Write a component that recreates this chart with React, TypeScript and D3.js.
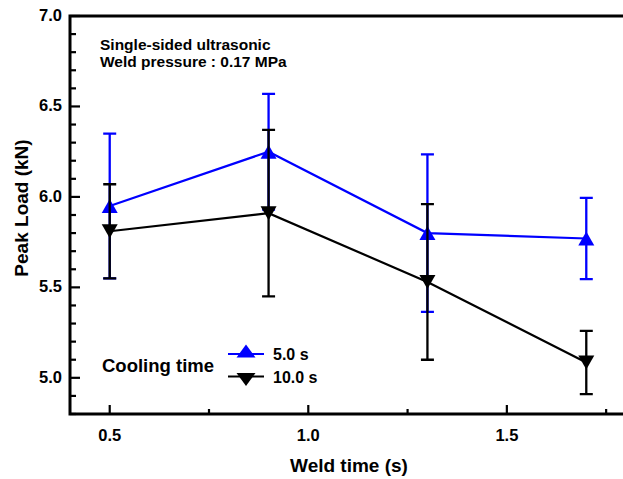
import * as d3 from 'd3';
import { useEffect, useRef } from 'react';

const weldTimes = [0.5, 0.9, 1.3, 1.7];
const load5s = [5.95, 6.25, 5.8, 5.77];
const err5s = [0.4, 0.32, 0.435, 0.225];
const load10s = [5.81, 5.91, 5.53, 5.085];
const err10s = [0.26, 0.46, 0.43, 0.175];
const xMajorTicks = [0.5, 1.0, 1.5];
const xMinorTicks = [0.75, 1.25, 1.75];
const yMajorTicks = [5.0, 5.5, 6.0, 6.5, 7.0];
const seriesNames = ['5.0 s', '10.0 s'];
const noteLines = ['Single-sided ultrasonic', 'Weld pressure : 0.17 MPa'];

const FONT = '"Liberation Sans", Arial, sans-serif';

// triangle marker, pointing up (dir = 1) or down (dir = -1), centred on 0,0
const triangle = (w: number, h: number, dir: number) => {
  const p = d3.path();
  p.moveTo(0, (-h / 2) * dir);
  p.lineTo(w / 2, (h / 2) * dir);
  p.lineTo(-w / 2, (h / 2) * dir);
  p.closePath();
  return p.toString();
};

export default function App() {
  const ref = useRef<SVGSVGElement>(null);

  useEffect(() => {
    const width = 623;
    const height = 479;
    const svg = d3.select(ref.current);
    svg.selectAll('*').remove();

    const margin = { top: 16, right: -3, bottom: 65, left: 70 };
    const x = d3.scaleLinear().domain([0.4, 1.8]).range([margin.left, width - margin.right]);
    const y = d3.scaleLinear().domain([4.8, 7.0]).range([height - margin.bottom, margin.top]);
    const [x0, x1] = x.range();
    const [y0, y1] = y.range();

    const g = svg.append('g').style('font-family', FONT).style('font-weight', 'bold');

    // frame
    g.append('path')
      .attr('d', `M${x1 + 2},${y1}H${x0}V${y0}H${x1 + 2}`)
      .attr('fill', 'none')
      .attr('stroke', '#000')
      .attr('stroke-width', 3);

    // y ticks (inward)
    const yMinor = d3.range(48, 71).map((v) => v / 10).filter((v) => Math.round(v * 10) % 5 !== 0);
    g.selectAll('.ymin')
      .data(yMinor)
      .enter()
      .append('line')
      .attr('x1', x0)
      .attr('x2', x0 + 6)
      .attr('y1', (d) => y(d))
      .attr('y2', (d) => y(d))
      .attr('stroke', '#000')
      .attr('stroke-width', 2.2);
    g.selectAll('.ymaj')
      .data(yMajorTicks)
      .enter()
      .append('line')
      .attr('x1', x0)
      .attr('x2', x0 + 10)
      .attr('y1', (d) => y(d))
      .attr('y2', (d) => y(d))
      .attr('stroke', '#000')
      .attr('stroke-width', 2.2);
    g.selectAll('.ylab')
      .data(yMajorTicks)
      .enter()
      .append('text')
      .attr('x', x0 - 8)
      .attr('y', (d) => y(d) + 5)
      .attr('text-anchor', 'end')
      .style('font-size', '16.5px')
      .text((d) => d3.format('.1f')(d));

    // x ticks (inward)
    g.selectAll('.xmin')
      .data(xMinorTicks)
      .enter()
      .append('line')
      .attr('x1', (d) => x(d))
      .attr('x2', (d) => x(d))
      .attr('y1', y0)
      .attr('y2', y0 - 5)
      .attr('stroke', '#000')
      .attr('stroke-width', 2.2);
    g.selectAll('.xmaj')
      .data(xMajorTicks)
      .enter()
      .append('line')
      .attr('x1', (d) => x(d))
      .attr('x2', (d) => x(d))
      .attr('y1', y0)
      .attr('y2', y0 - 9)
      .attr('stroke', '#000')
      .attr('stroke-width', 2.2);
    g.selectAll('.xlab')
      .data(xMajorTicks)
      .enter()
      .append('text')
      .attr('x', (d) => x(d))
      .attr('y', y0 + 27)
      .attr('text-anchor', 'middle')
      .style('font-size', '16.5px')
      .text((d) => d3.format('.1f')(d));

    // axis titles
    g.append('text')
      .attr('x', 349)
      .attr('y', 472)
      .attr('text-anchor', 'middle')
      .style('font-size', '19px')
      .text('Weld time (s)');
    g.append('text')
      .attr('transform', `translate(28,208) rotate(-90)`)
      .attr('text-anchor', 'middle')
      .style('font-size', '19px')
      .text('Peak Load (kN)');

    // note
    g.selectAll('.note')
      .data(noteLines)
      .enter()
      .append('text')
      .attr('x', 100)
      .attr('y', (d, i) => 50 + i * 17)
      .style('font-size', '15.5px')
      .text((d) => d);

    const capW = 6.5;
    const drawErrors = (vals: number[], err: number[], color: string) => {
      const eg = g.append('g').attr('stroke', color).attr('stroke-width', 2.3).attr('fill', 'none');
      weldTimes.forEach((t, i) => {
        const cx = x(t);
        const top = y(vals[i] + err[i]);
        const bot = y(vals[i] - err[i]);
        eg.append('path').attr(
          'd',
          `M${cx},${top}V${bot}M${cx - capW},${top}H${cx + capW}M${cx - capW},${bot}H${cx + capW}`
        );
      });
    };

    const line = d3
      .line<number>()
      .x((d, i) => x(weldTimes[i]))
      .y((d) => y(d));

    // 5.0 s series
    drawErrors(load5s, err5s, '#0000ff');
    g.append('path')
      .attr('d', line(load5s))
      .attr('fill', 'none')
      .attr('stroke', '#0000ff')
      .attr('stroke-width', 2.2);
    g.selectAll('.m5')
      .data(load5s)
      .enter()
      .append('path')
      .attr('d', triangle(16, 14, 1))
      .attr('transform', (d, i) => `translate(${x(weldTimes[i])},${y(d)})`)
      .attr('fill', '#0000ff');

    // 10.0 s series
    drawErrors(load10s, err10s, '#000');
    g.append('path')
      .attr('d', line(load10s))
      .attr('fill', 'none')
      .attr('stroke', '#000')
      .attr('stroke-width', 2.2);
    g.selectAll('.m10')
      .data(load10s)
      .enter()
      .append('path')
      .attr('d', triangle(16, 14, -1))
      .attr('transform', (d, i) => `translate(${x(weldTimes[i])},${y(d)})`)
      .attr('fill', '#000');

    // legend
    g.append('text').attr('x', 102).attr('y', 372).style('font-size', '18.5px').text('Cooling time');
    const legendColors = ['#0000ff', '#000'];
    seriesNames.forEach((name, i) => {
      const ly = 354 + i * 22.5;
      g.append('line')
        .attr('x1', 228)
        .attr('x2', 264)
        .attr('y1', ly)
        .attr('y2', ly)
        .attr('stroke', legendColors[i])
        .attr('stroke-width', 2.2);
      g.append('path')
        .attr('d', triangle(19, 13, i === 0 ? 1 : -1))
        .attr('transform', `translate(246,${ly + (i === 0 ? -3 : 3)})`)
        .attr('fill', legendColors[i]);
      g.append('text')
        .attr('x', 273)
        .attr('y', ly + 6)
        .style('font-size', '16px')
        .text(name);
    });
  }, []);

  return (
    <svg
      ref={ref}
      width={623}
      height={479}
      style={{ position: 'absolute', left: 0, top: 0, background: '#fff' }}
      role="img"
      aria-label="Peak load vs weld time"
    />
  );
}
